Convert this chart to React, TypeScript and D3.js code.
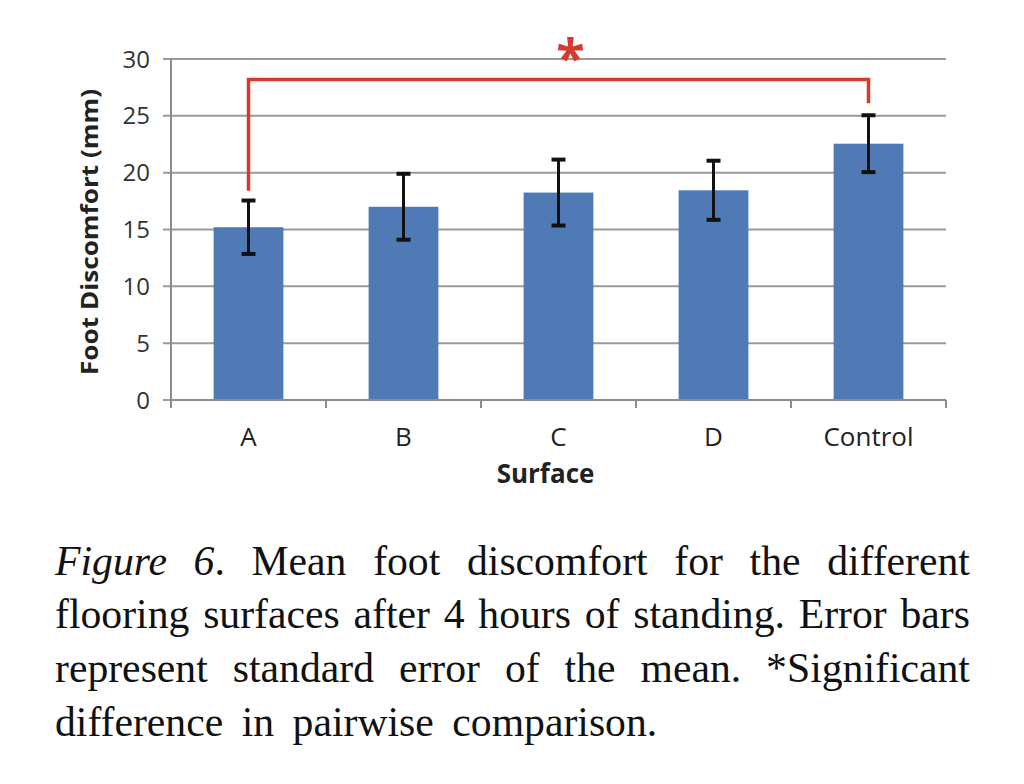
import React, { useMemo } from "react";
import * as d3 from "d3";

const categories = ["A", "B", "C", "D", "Control"];
const means = [15.2, 17.0, 18.25, 18.45, 22.55];
const errors = [2.35, 2.9, 2.9, 2.6, 2.5];
const yTicks = [0, 5, 10, 15, 20, 25, 30];
const bracket = { from: "A", to: "Control", top: 28.2, leftEnd: 18.4, rightEnd: 26.1 };
const captionLines = [
  [{ t: "Figure 6", i: true }, { t: ". Mean foot discomfort for the different", i: false }],
  [{ t: "flooring surfaces after 4 hours of standing. Error bars", i: false }],
  [{ t: "represent standard error of the mean. *Significant", i: false }],
  [{ t: "difference in pairwise comparison.", i: false }],
];

const W = 1024;
const H = 784;
const M = { left: 171, right: 946, top: 59, bottom: 400 };
const SANS = "'Open Sans', 'Noto Sans', sans-serif";
const SERIF = "'Liberation Serif', 'DejaVu Serif', serif";
const CAP_FONT = 43;
const CAP_SX = 0.97;

let ctx: CanvasRenderingContext2D | null = null;
function measure(text: string, italic: boolean) {
  if (!ctx) ctx = document.createElement("canvas").getContext("2d")!;
  ctx.font = `${italic ? "italic " : ""}${CAP_FONT}px 'Liberation Serif'`;
  return ctx.measureText(text).width * CAP_SX;
}

type Word = { t: string; i: boolean; x: number; s: number };

function layoutLine(segs: { t: string; i: boolean }[], justify: boolean, x0: number, x1: number, extraGap = 0): Word[] {
  const tokens: { t: string; i: boolean; join: boolean }[] = [];
  segs.forEach((s, si) => {
    s.t.split(" ").forEach((p, pi) => {
      if (p === "") return;
      tokens.push({ t: p, i: s.i, join: pi === 0 && si > 0 && !s.t.startsWith(" ") });
    });
  });
  const words: { pieces: { t: string; i: boolean; w: number }[]; w: number }[] = [];
  tokens.forEach((tk) => {
    const w = measure(tk.t, tk.i);
    if (tk.join && words.length) {
      const last = words[words.length - 1];
      last.pieces.push({ t: tk.t, i: tk.i, w });
      last.w += w;
    } else words.push({ pieces: [{ t: tk.t, i: tk.i, w }], w });
  });
  const total = d3.sum(words, (w) => w.w);
  const space = measure(" ", false) + extraGap;
  const minGap = CAP_FONT * 0.2;
  const n = words.length;
  let s = CAP_SX;
  let gap = space;
  if (justify && n > 1) {
    gap = (x1 - x0 - total) / (n - 1);
    if (gap < minGap) {
      const k = (x1 - x0) / (total + minGap * (n - 1));
      s = CAP_SX * k;
      gap = minGap * k;
      words.forEach((w) => {
        w.w *= k;
        w.pieces.forEach((p) => (p.w *= k));
      });
    }
  }
  const out: Word[] = [];
  let x = x0;
  words.forEach((wd) => {
    let px = x;
    wd.pieces.forEach((p) => {
      out.push({ t: p.t, i: p.i, x: px, s });
      px += p.w;
    });
    x += wd.w + gap;
  });
  return out;
}

export default function App() {
  const x = d3.scaleBand<string>().domain(categories).range([M.left, M.right]).paddingInner(0.55).paddingOuter(0.275);
  const xOuter = d3.scaleBand<string>().domain(categories).range([M.left, M.right]);
  const y = d3.scaleLinear().domain([0, 30]).range([M.bottom, M.top]);
  const cx = (c: string) => (x(c) as number) + x.bandwidth() / 2;

  const caption = useMemo(
    () => captionLines.map((segs, li) => layoutLine(segs, li < captionLines.length - 1, 55, 970, li === 3 ? 8 : 0)),
    []
  );
  const capBase = [575, 628, 682, 736];
  const red = "#d63a2f";

  const bx1 = cx(bracket.from);
  const bx2 = cx(bracket.to);

  return (
    <svg width={W} height={H} style={{ display: "block", position: "absolute", left: 0, top: 0, background: "#fff" }}>
      <rect x={0} y={0} width={W} height={H} fill="#fff" />
      {yTicks.map((t) => (
        <line key={t} x1={M.left - 8} x2={M.right} y1={y(t)} y2={y(t)} stroke="#9a9a9a" strokeWidth={2} />
      ))}
      <line x1={M.left} x2={M.left} y1={M.top} y2={M.bottom} stroke="#8c8c8c" strokeWidth={2} />
      {yTicks.map((t) => (
        <text key={t} x={150} y={y(t)} dy="0.36em" textAnchor="end" fontFamily={SANS} fontSize={24} fill="#333">
          {t}
        </text>
      ))}
      {[...categories.map((c) => xOuter(c) as number), M.right].map((p, i) => (
        <line key={i} x1={p} x2={p} y1={M.bottom} y2={M.bottom + 8} stroke="#8c8c8c" strokeWidth={2} />
      ))}
      {categories.map((c, i) => (
        <rect key={c} x={x(c)} y={y(means[i])} width={x.bandwidth()} height={y(0) - y(means[i])} fill="#4f7ab5" />
      ))}
      <line x1={M.left} x2={M.right} y1={M.bottom} y2={M.bottom} stroke="#8c8c8c" strokeWidth={2} />
      {categories.map((c, i) => {
        const xc = cx(c);
        const hi = y(means[i] + errors[i]);
        const lo = y(means[i] - errors[i]);
        return (
          <g key={c} stroke="#111" strokeWidth={3}>
            <line x1={xc} x2={xc} y1={hi} y2={lo} />
            <line x1={xc - 7} x2={xc + 7} y1={hi} y2={hi} strokeWidth={4} />
            <line x1={xc - 7} x2={xc + 7} y1={lo} y2={lo} strokeWidth={4} />
          </g>
        );
      })}
      <path
        d={`M${bx1},${y(bracket.leftEnd)}V${y(bracket.top)}H${bx2}V${y(bracket.rightEnd)}`}
        fill="none"
        stroke={red}
        strokeWidth={3.5}
      />
      <text x={(bx1 + bx2) / 2 + 12} y={y(bracket.top) - 2} textAnchor="middle" fontFamily={SANS} fontSize={52} fontWeight="bold" fill={red}>
        *
      </text>
      {categories.map((c) => (
        <text key={c} x={cx(c)} y={446} textAnchor="middle" fontFamily={SANS} fontSize={26} fill="#222">
          {c}
        </text>
      ))}
      <text x={(M.left + M.right) / 2 - 13} y={483} textAnchor="middle" fontFamily={SANS} fontSize={26} fontWeight="bold" fill="#222">
        Surface
      </text>
      <text
        transform={`translate(98,232) rotate(-90)`}
        textAnchor="middle"
        fontFamily={SANS}
        fontSize={23}
        fontWeight="bold"
        fill="#222"
        textLength={286}
        lengthAdjust="spacingAndGlyphs"
      >
        Foot Discomfort (mm)
      </text>
      {caption.map((line, li) =>
        line.map((w, wi) => (
          <text
            key={`${li}-${wi}`}
            transform={`translate(${w.x},${capBase[li]}) scale(${w.s},1)`}
            fontFamily={SERIF}
            fontSize={CAP_FONT}
            fontStyle={w.i ? "italic" : "normal"}
            fill="#111"
          >
            {w.t}
          </text>
        ))
      )}
    </svg>
  );
}
